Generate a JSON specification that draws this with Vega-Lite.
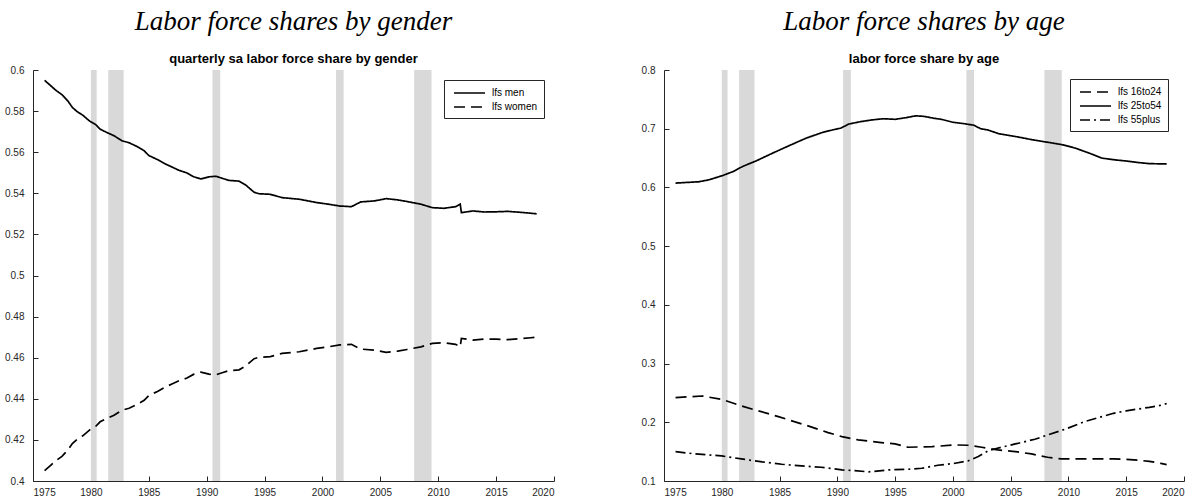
{
  "$schema": "https://vega.github.io/schema/vega-lite/v6.json",
  "background": "white",
  "padding": {"left": 4, "top": 8, "right": 0, "bottom": 2},
  "config": {
    "view": {"stroke": null},
    "axis": {
      "grid": false,
      "domainColor": "#262626",
      "tickColor": "#262626",
      "labelColor": "#262626",
      "labelFont": "Liberation Sans",
      "labelFontSize": 10,
      "tickSize": -5,
      "title": null
    },
    "axisY": {"labelPadding": 14},
    "axisX": {"labelPadding": 11},
    "title": {
      "font": "Liberation Serif",
      "fontStyle": "italic",
      "fontWeight": "normal",
      "fontSize": 27,
      "color": "black",
      "subtitleFont": "Liberation Sans",
      "subtitleFontWeight": "bold",
      "subtitleFontSize": 13,
      "subtitleColor": "black",
      "subtitlePadding": 17,
      "offset": -2,
      "anchor": "middle"
    },
    "legend": {
      "orient": "none",
      "strokeColor": "#262626",
      "fillColor": "white",
      "padding": 6,
      "symbolType": "M-0.5,0H4.67",
      "symbolSize": 144,
      "symbolStrokeWidth": 1.6,
      "symbolStrokeColor": "black",
      "symbolFillColor": "transparent",
      "labelOffset": 28,
      "labelFont": "Liberation Sans",
      "labelFontSize": 10,
      "labelColor": "black",
      "rowPadding": 2,
      "title": null
    }
  },
  "datasets": {
    "rec": [
      {"start": 1980.0, "end": 1980.5},
      {"start": 1981.5, "end": 1982.83},
      {"start": 1990.5, "end": 1991.17},
      {"start": 2001.17, "end": 2001.83},
      {"start": 2007.92, "end": 2009.42}
    ],
    "gender": [
      {"year": 1976.0, "value": 0.5950, "series": "lfs men"},
      {"year": 1976.5, "value": 0.5925, "series": "lfs men"},
      {"year": 1977.0, "value": 0.5900, "series": "lfs men"},
      {"year": 1977.5, "value": 0.5880, "series": "lfs men"},
      {"year": 1978.0, "value": 0.5850, "series": "lfs men"},
      {"year": 1978.4, "value": 0.5818, "series": "lfs men"},
      {"year": 1978.8, "value": 0.5798, "series": "lfs men"},
      {"year": 1979.3, "value": 0.5780, "series": "lfs men"},
      {"year": 1979.9, "value": 0.5751, "series": "lfs men"},
      {"year": 1980.4, "value": 0.5735, "series": "lfs men"},
      {"year": 1980.8, "value": 0.5712, "series": "lfs men"},
      {"year": 1981.3, "value": 0.5698, "series": "lfs men"},
      {"year": 1982.0, "value": 0.5680, "series": "lfs men"},
      {"year": 1982.7, "value": 0.5655, "series": "lfs men"},
      {"year": 1983.3, "value": 0.5646, "series": "lfs men"},
      {"year": 1983.9, "value": 0.5630, "series": "lfs men"},
      {"year": 1984.6, "value": 0.5607, "series": "lfs men"},
      {"year": 1985.0, "value": 0.5584, "series": "lfs men"},
      {"year": 1985.75, "value": 0.5564, "series": "lfs men"},
      {"year": 1986.5, "value": 0.5541, "series": "lfs men"},
      {"year": 1987.0, "value": 0.5528, "series": "lfs men"},
      {"year": 1987.6, "value": 0.5512, "series": "lfs men"},
      {"year": 1988.3, "value": 0.5499, "series": "lfs men"},
      {"year": 1988.9, "value": 0.5480, "series": "lfs men"},
      {"year": 1989.5, "value": 0.5470, "series": "lfs men"},
      {"year": 1990.2, "value": 0.5480, "series": "lfs men"},
      {"year": 1990.8, "value": 0.5483, "series": "lfs men"},
      {"year": 1991.4, "value": 0.5472, "series": "lfs men"},
      {"year": 1991.9, "value": 0.5463, "series": "lfs men"},
      {"year": 1992.8, "value": 0.5459, "series": "lfs men"},
      {"year": 1993.4, "value": 0.5439, "series": "lfs men"},
      {"year": 1994.1, "value": 0.5405, "series": "lfs men"},
      {"year": 1994.5, "value": 0.5398, "series": "lfs men"},
      {"year": 1995.5, "value": 0.5395, "series": "lfs men"},
      {"year": 1996.5, "value": 0.5379, "series": "lfs men"},
      {"year": 1998.0, "value": 0.5371, "series": "lfs men"},
      {"year": 1999.5, "value": 0.5355, "series": "lfs men"},
      {"year": 2000.5, "value": 0.5347, "series": "lfs men"},
      {"year": 2001.5, "value": 0.5338, "series": "lfs men"},
      {"year": 2002.5, "value": 0.5335, "series": "lfs men"},
      {"year": 2003.3, "value": 0.5358, "series": "lfs men"},
      {"year": 2004.5, "value": 0.5363, "series": "lfs men"},
      {"year": 2005.5, "value": 0.5374, "series": "lfs men"},
      {"year": 2006.5, "value": 0.5368, "series": "lfs men"},
      {"year": 2007.3, "value": 0.5360, "series": "lfs men"},
      {"year": 2008.5, "value": 0.5347, "series": "lfs men"},
      {"year": 2009.5, "value": 0.5330, "series": "lfs men"},
      {"year": 2010.5, "value": 0.5327, "series": "lfs men"},
      {"year": 2011.5, "value": 0.5335, "series": "lfs men"},
      {"year": 2011.9, "value": 0.5347, "series": "lfs men"},
      {"year": 2012.0, "value": 0.5306, "series": "lfs men"},
      {"year": 2013.0, "value": 0.5314, "series": "lfs men"},
      {"year": 2014.0, "value": 0.5309, "series": "lfs men"},
      {"year": 2015.0, "value": 0.5310, "series": "lfs men"},
      {"year": 2016.0, "value": 0.5312, "series": "lfs men"},
      {"year": 2017.0, "value": 0.5308, "series": "lfs men"},
      {"year": 2018.0, "value": 0.5303, "series": "lfs men"},
      {"year": 2018.5, "value": 0.5300, "series": "lfs men"},
      {"year": 1976.0, "value": 0.4050, "series": "lfs women"},
      {"year": 1976.5, "value": 0.4075, "series": "lfs women"},
      {"year": 1977.0, "value": 0.4100, "series": "lfs women"},
      {"year": 1977.5, "value": 0.4120, "series": "lfs women"},
      {"year": 1978.0, "value": 0.4150, "series": "lfs women"},
      {"year": 1978.4, "value": 0.4182, "series": "lfs women"},
      {"year": 1978.8, "value": 0.4202, "series": "lfs women"},
      {"year": 1979.3, "value": 0.4220, "series": "lfs women"},
      {"year": 1979.9, "value": 0.4249, "series": "lfs women"},
      {"year": 1980.4, "value": 0.4265, "series": "lfs women"},
      {"year": 1980.8, "value": 0.4288, "series": "lfs women"},
      {"year": 1981.3, "value": 0.4302, "series": "lfs women"},
      {"year": 1982.0, "value": 0.4320, "series": "lfs women"},
      {"year": 1982.7, "value": 0.4345, "series": "lfs women"},
      {"year": 1983.3, "value": 0.4354, "series": "lfs women"},
      {"year": 1983.9, "value": 0.4370, "series": "lfs women"},
      {"year": 1984.6, "value": 0.4393, "series": "lfs women"},
      {"year": 1985.0, "value": 0.4416, "series": "lfs women"},
      {"year": 1985.75, "value": 0.4436, "series": "lfs women"},
      {"year": 1986.5, "value": 0.4459, "series": "lfs women"},
      {"year": 1987.0, "value": 0.4472, "series": "lfs women"},
      {"year": 1987.6, "value": 0.4488, "series": "lfs women"},
      {"year": 1988.3, "value": 0.4501, "series": "lfs women"},
      {"year": 1988.9, "value": 0.4520, "series": "lfs women"},
      {"year": 1989.5, "value": 0.4530, "series": "lfs women"},
      {"year": 1990.2, "value": 0.4520, "series": "lfs women"},
      {"year": 1990.8, "value": 0.4517, "series": "lfs women"},
      {"year": 1991.4, "value": 0.4528, "series": "lfs women"},
      {"year": 1991.9, "value": 0.4537, "series": "lfs women"},
      {"year": 1992.8, "value": 0.4541, "series": "lfs women"},
      {"year": 1993.4, "value": 0.4561, "series": "lfs women"},
      {"year": 1994.1, "value": 0.4595, "series": "lfs women"},
      {"year": 1994.5, "value": 0.4602, "series": "lfs women"},
      {"year": 1995.5, "value": 0.4605, "series": "lfs women"},
      {"year": 1996.5, "value": 0.4621, "series": "lfs women"},
      {"year": 1998.0, "value": 0.4629, "series": "lfs women"},
      {"year": 1999.5, "value": 0.4645, "series": "lfs women"},
      {"year": 2000.5, "value": 0.4653, "series": "lfs women"},
      {"year": 2001.5, "value": 0.4662, "series": "lfs women"},
      {"year": 2002.5, "value": 0.4665, "series": "lfs women"},
      {"year": 2003.3, "value": 0.4642, "series": "lfs women"},
      {"year": 2004.5, "value": 0.4637, "series": "lfs women"},
      {"year": 2005.5, "value": 0.4626, "series": "lfs women"},
      {"year": 2006.5, "value": 0.4632, "series": "lfs women"},
      {"year": 2007.3, "value": 0.4640, "series": "lfs women"},
      {"year": 2008.5, "value": 0.4653, "series": "lfs women"},
      {"year": 2009.5, "value": 0.4670, "series": "lfs women"},
      {"year": 2010.5, "value": 0.4673, "series": "lfs women"},
      {"year": 2011.5, "value": 0.4665, "series": "lfs women"},
      {"year": 2011.9, "value": 0.4653, "series": "lfs women"},
      {"year": 2012.0, "value": 0.4694, "series": "lfs women"},
      {"year": 2013.0, "value": 0.4686, "series": "lfs women"},
      {"year": 2014.0, "value": 0.4691, "series": "lfs women"},
      {"year": 2015.0, "value": 0.4690, "series": "lfs women"},
      {"year": 2016.0, "value": 0.4688, "series": "lfs women"},
      {"year": 2017.0, "value": 0.4692, "series": "lfs women"},
      {"year": 2018.0, "value": 0.4697, "series": "lfs women"},
      {"year": 2018.5, "value": 0.4700, "series": "lfs women"}
    ],
    "age": [
      {"year": 1976.0, "value": 0.6074, "series": "lfs 25to54"},
      {"year": 1977.0, "value": 0.6085, "series": "lfs 25to54"},
      {"year": 1978.0, "value": 0.6096, "series": "lfs 25to54"},
      {"year": 1978.9, "value": 0.6130, "series": "lfs 25to54"},
      {"year": 1980.1, "value": 0.6204, "series": "lfs 25to54"},
      {"year": 1981.0, "value": 0.6272, "series": "lfs 25to54"},
      {"year": 1981.8, "value": 0.6357, "series": "lfs 25to54"},
      {"year": 1983.0, "value": 0.6454, "series": "lfs 25to54"},
      {"year": 1984.4, "value": 0.6584, "series": "lfs 25to54"},
      {"year": 1985.8, "value": 0.6709, "series": "lfs 25to54"},
      {"year": 1987.3, "value": 0.6839, "series": "lfs 25to54"},
      {"year": 1988.7, "value": 0.6936, "series": "lfs 25to54"},
      {"year": 1989.6, "value": 0.6980, "series": "lfs 25to54"},
      {"year": 1990.3, "value": 0.7010, "series": "lfs 25to54"},
      {"year": 1991.0, "value": 0.7080, "series": "lfs 25to54"},
      {"year": 1992.0, "value": 0.7120, "series": "lfs 25to54"},
      {"year": 1993.0, "value": 0.7150, "series": "lfs 25to54"},
      {"year": 1994.0, "value": 0.7170, "series": "lfs 25to54"},
      {"year": 1995.0, "value": 0.7160, "series": "lfs 25to54"},
      {"year": 1996.0, "value": 0.7190, "series": "lfs 25to54"},
      {"year": 1996.8, "value": 0.7220, "series": "lfs 25to54"},
      {"year": 1997.5, "value": 0.7210, "series": "lfs 25to54"},
      {"year": 1998.3, "value": 0.7180, "series": "lfs 25to54"},
      {"year": 1999.0, "value": 0.7160, "series": "lfs 25to54"},
      {"year": 2000.0, "value": 0.7110, "series": "lfs 25to54"},
      {"year": 2001.0, "value": 0.7085, "series": "lfs 25to54"},
      {"year": 2001.8, "value": 0.7060, "series": "lfs 25to54"},
      {"year": 2002.4, "value": 0.7000, "series": "lfs 25to54"},
      {"year": 2003.0, "value": 0.6980, "series": "lfs 25to54"},
      {"year": 2004.0, "value": 0.6913, "series": "lfs 25to54"},
      {"year": 2005.4, "value": 0.6868, "series": "lfs 25to54"},
      {"year": 2006.9, "value": 0.6811, "series": "lfs 25to54"},
      {"year": 2008.3, "value": 0.6766, "series": "lfs 25to54"},
      {"year": 2009.5, "value": 0.6726, "series": "lfs 25to54"},
      {"year": 2010.6, "value": 0.6669, "series": "lfs 25to54"},
      {"year": 2011.8, "value": 0.6584, "series": "lfs 25to54"},
      {"year": 2012.9, "value": 0.6499, "series": "lfs 25to54"},
      {"year": 2014.0, "value": 0.6470, "series": "lfs 25to54"},
      {"year": 2015.0, "value": 0.6450, "series": "lfs 25to54"},
      {"year": 2016.0, "value": 0.6425, "series": "lfs 25to54"},
      {"year": 2017.0, "value": 0.6405, "series": "lfs 25to54"},
      {"year": 2018.5, "value": 0.6400, "series": "lfs 25to54"},
      {"year": 1976.0, "value": 0.2420, "series": "lfs 16to24"},
      {"year": 1978.3, "value": 0.2448, "series": "lfs 16to24"},
      {"year": 1980.0, "value": 0.2391, "series": "lfs 16to24"},
      {"year": 1981.7, "value": 0.2278, "series": "lfs 16to24"},
      {"year": 1982.9, "value": 0.2210, "series": "lfs 16to24"},
      {"year": 1984.9, "value": 0.2096, "series": "lfs 16to24"},
      {"year": 1987.2, "value": 0.1955, "series": "lfs 16to24"},
      {"year": 1989.2, "value": 0.1824, "series": "lfs 16to24"},
      {"year": 1990.4, "value": 0.1756, "series": "lfs 16to24"},
      {"year": 1991.8, "value": 0.1700, "series": "lfs 16to24"},
      {"year": 1993.8, "value": 0.1654, "series": "lfs 16to24"},
      {"year": 1995.0, "value": 0.1631, "series": "lfs 16to24"},
      {"year": 1996.1, "value": 0.1575, "series": "lfs 16to24"},
      {"year": 1998.2, "value": 0.1586, "series": "lfs 16to24"},
      {"year": 2000.2, "value": 0.1614, "series": "lfs 16to24"},
      {"year": 2001.3, "value": 0.1609, "series": "lfs 16to24"},
      {"year": 2002.5, "value": 0.1575, "series": "lfs 16to24"},
      {"year": 2003.9, "value": 0.1529, "series": "lfs 16to24"},
      {"year": 2005.4, "value": 0.1501, "series": "lfs 16to24"},
      {"year": 2006.8, "value": 0.1461, "series": "lfs 16to24"},
      {"year": 2008.2, "value": 0.1404, "series": "lfs 16to24"},
      {"year": 2009.4, "value": 0.1376, "series": "lfs 16to24"},
      {"year": 2011.7, "value": 0.1376, "series": "lfs 16to24"},
      {"year": 2013.9, "value": 0.1378, "series": "lfs 16to24"},
      {"year": 2015.0, "value": 0.1370, "series": "lfs 16to24"},
      {"year": 2016.0, "value": 0.1355, "series": "lfs 16to24"},
      {"year": 2017.0, "value": 0.1335, "series": "lfs 16to24"},
      {"year": 2018.0, "value": 0.1300, "series": "lfs 16to24"},
      {"year": 2018.5, "value": 0.1280, "series": "lfs 16to24"},
      {"year": 1976.0, "value": 0.1500, "series": "lfs 55plus"},
      {"year": 1977.7, "value": 0.1461, "series": "lfs 55plus"},
      {"year": 1980.0, "value": 0.1427, "series": "lfs 55plus"},
      {"year": 1981.7, "value": 0.1376, "series": "lfs 55plus"},
      {"year": 1983.5, "value": 0.1325, "series": "lfs 55plus"},
      {"year": 1985.2, "value": 0.1285, "series": "lfs 55plus"},
      {"year": 1986.9, "value": 0.1257, "series": "lfs 55plus"},
      {"year": 1988.6, "value": 0.1234, "series": "lfs 55plus"},
      {"year": 1990.4, "value": 0.1189, "series": "lfs 55plus"},
      {"year": 1991.5, "value": 0.1178, "series": "lfs 55plus"},
      {"year": 1992.7, "value": 0.1155, "series": "lfs 55plus"},
      {"year": 1994.4, "value": 0.1189, "series": "lfs 55plus"},
      {"year": 1996.1, "value": 0.1200, "series": "lfs 55plus"},
      {"year": 1997.3, "value": 0.1217, "series": "lfs 55plus"},
      {"year": 1998.7, "value": 0.1268, "series": "lfs 55plus"},
      {"year": 2000.2, "value": 0.1302, "series": "lfs 55plus"},
      {"year": 2001.3, "value": 0.1342, "series": "lfs 55plus"},
      {"year": 2002.2, "value": 0.1416, "series": "lfs 55plus"},
      {"year": 2003.1, "value": 0.1518, "series": "lfs 55plus"},
      {"year": 2004.2, "value": 0.1575, "series": "lfs 55plus"},
      {"year": 2005.4, "value": 0.1631, "series": "lfs 55plus"},
      {"year": 2007.1, "value": 0.1711, "series": "lfs 55plus"},
      {"year": 2008.2, "value": 0.1784, "series": "lfs 55plus"},
      {"year": 2009.7, "value": 0.1881, "series": "lfs 55plus"},
      {"year": 2011.4, "value": 0.2011, "series": "lfs 55plus"},
      {"year": 2012.9, "value": 0.2096, "series": "lfs 55plus"},
      {"year": 2013.9, "value": 0.2153, "series": "lfs 55plus"},
      {"year": 2015.0, "value": 0.2195, "series": "lfs 55plus"},
      {"year": 2016.0, "value": 0.2225, "series": "lfs 55plus"},
      {"year": 2017.0, "value": 0.2255, "series": "lfs 55plus"},
      {"year": 2018.0, "value": 0.2290, "series": "lfs 55plus"},
      {"year": 2018.5, "value": 0.2320, "series": "lfs 55plus"}
    ]
  },
  "hconcat": [
    {
      "width": 521,
      "height": 411,
      "title": {"text": "Labor force shares by gender", "subtitle": "quarterly sa labor force share by gender"},
      "layer": [
        {
          "data": {"name": "rec"},
          "mark": {"type": "rect", "color": "#d9d9d9"},
          "encoding": {
            "x": {"field": "start", "type": "quantitative", "scale": {"domain": [1975, 2020], "nice": false, "zero": false},
                  "axis": {"values": [1975, 1980, 1985, 1990, 1995, 2000, 2005, 2010, 2015, 2020], "format": "d"}},
            "x2": {"field": "end"}
          }
        },
        {
          "data": {"name": "gender"},
          "mark": {"type": "line", "color": "black", "strokeWidth": 1.7},
          "encoding": {
            "x": {"field": "year", "type": "quantitative"},
            "y": {"field": "value", "type": "quantitative", "scale": {"domain": [0.4, 0.6], "nice": false, "zero": false},
                  "axis": {"values": [0.4, 0.42, 0.44, 0.46, 0.48, 0.5, 0.52, 0.54, 0.56, 0.58, 0.6], "format": "~g"}},
            "strokeDash": {"field": "series", "type": "nominal",
                           "scale": {"domain": ["lfs men", "lfs women"], "range": [[1, 0], [11, 6]]},
                           "legend": {"legendX": 411, "legendY": 10}}
          }
        }
      ]
    },
    {
      "width": 520,
      "height": 411,
      "title": {"text": "Labor force shares by age", "subtitle": "labor force share by age"},
      "layer": [
        {
          "data": {"name": "rec"},
          "mark": {"type": "rect", "color": "#d9d9d9"},
          "encoding": {
            "x": {"field": "start", "type": "quantitative", "scale": {"domain": [1975, 2020], "nice": false, "zero": false},
                  "axis": {"values": [1975, 1980, 1985, 1990, 1995, 2000, 2005, 2010, 2015, 2020], "format": "d"}},
            "x2": {"field": "end"}
          }
        },
        {
          "data": {"name": "age"},
          "mark": {"type": "line", "color": "black", "strokeWidth": 1.7},
          "encoding": {
            "x": {"field": "year", "type": "quantitative"},
            "y": {"field": "value", "type": "quantitative", "scale": {"domain": [0.1, 0.8], "nice": false, "zero": false},
                  "axis": {"values": [0.1, 0.2, 0.3, 0.4, 0.5, 0.6, 0.7, 0.8], "format": "~g"}},
            "strokeDash": {"field": "series", "type": "nominal",
                           "scale": {"domain": ["lfs 16to24", "lfs 25to54", "lfs 55plus"], "range": [[11, 6], [1, 0], [10, 4, 2, 4]]},
                           "legend": {"legendX": 406, "legendY": 9}}
          }
        }
      ]
    }
  ],
  "spacing": 110,
  "bounds": "flush",
  "resolve": {
    "scale": {"x": "independent", "y": "independent", "strokeDash": "independent"},
    "legend": {"strokeDash": "independent"}
  }
}
